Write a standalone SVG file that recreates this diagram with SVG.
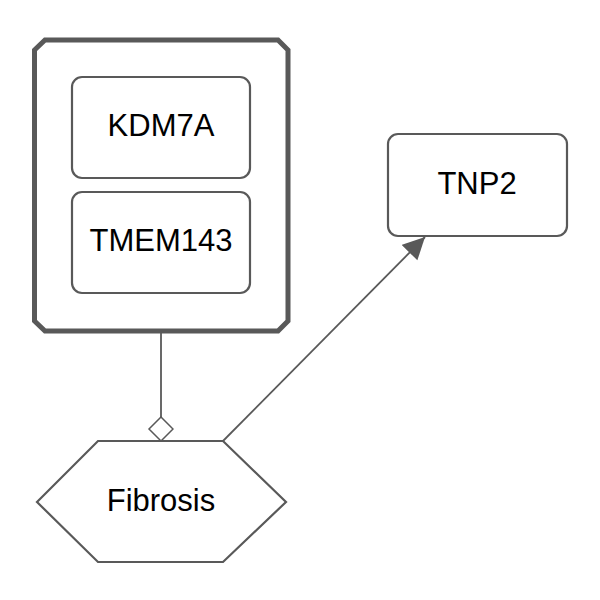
<svg xmlns="http://www.w3.org/2000/svg" width="600" height="600" viewBox="0 0 600 600">
<style>
.box{fill:#fff;stroke:#595959;stroke-width:2.2}
.lbl{font-family:"Liberation Sans",Arial,sans-serif;font-size:31px;fill:#000;text-anchor:middle}
.edge{fill:none;stroke:#595959;stroke-width:1.8}
</style>
<defs>
<marker id="arrow" markerUnits="userSpaceOnUse" markerWidth="24" markerHeight="24" refX="22" refY="11" orient="auto">
<path d="M0,0 L22,11 L0,22 Z" fill="#595959"/>
</marker>
<marker id="diamond" markerUnits="userSpaceOnUse" markerWidth="28" markerHeight="28" refX="25" refY="13" orient="auto">
<path d="M1,13 L13,1 L25,13 L13,25 Z" fill="#fff" stroke="#595959" stroke-width="1.5"/>
</marker>
</defs>
<g id="complex">
<polygon points="45,40 278,40 288,50 288,321 278,331 45,331 34.5,321 34.5,50" fill="#fff" stroke="#595959" stroke-width="5"/>
</g>
<g id="KDM7A">
<rect class="box" x="72" y="77" width="178" height="101" rx="10"/>
<text class="lbl" x="161" y="136">KDM7A</text>
</g>
<g id="TMEM143">
<rect class="box" x="72" y="192" width="178" height="101" rx="10"/>
<text class="lbl" x="161" y="251">TMEM143</text>
</g>
<g id="TNP2">
<rect class="box" x="388" y="134" width="179" height="102" rx="10"/>
<text class="lbl" x="477" y="194">TNP2</text>
</g>
<g id="Fibrosis">
<polygon class="box" points="37,502 98,441 223,441 286,502 223,562 98,562"/>
<text class="lbl" x="161" y="511">Fibrosis</text>
</g>
<g id="connectors">
<path class="edge" d="M161,332 L161,441" marker-end="url(#diamond)"/>
<path class="edge" d="M223,441 L425,237" marker-end="url(#arrow)"/>
</g>
</svg>
